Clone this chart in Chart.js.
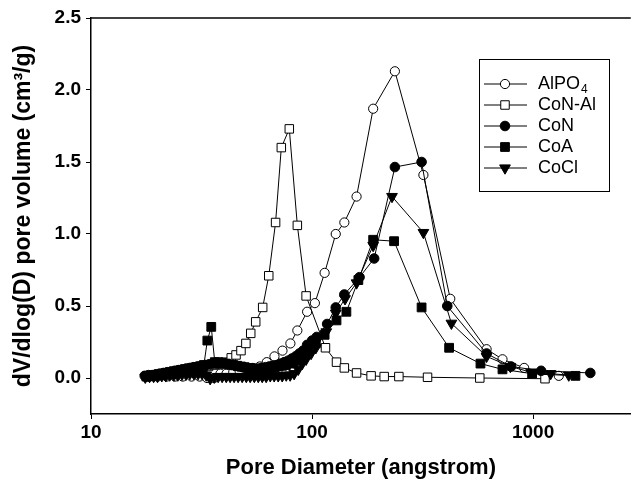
<!DOCTYPE html>
<html>
<head>
<meta charset="utf-8">
<script src="https://cdn.jsdelivr.net/npm/chart.js@4.4.1/dist/chart.umd.min.js"></script>
<style>
  body { margin: 0; background: #fff; }
  #wrap { width: 638px; height: 481px; }
</style>
</head>
<body>
<div id="wrap"><canvas id="graficoPoros"></canvas></div>
<script>
// diametros (angstrom) y dV/dlog(D) de cada muestra
const alpo4D = [18, 20, 22, 24, 26, 28.5, 31, 33.5, 36, 38.5, 41, 44, 47, 50.5, 54, 58, 62.4, 67.6, 73.5, 79.8, 85.8, 95, 103, 114, 128, 140, 159, 189, 237, 319, 422, 616, 727, 911, 1307]
const alpo4V = [0.01, 0.01, 0.01, 0.01, 0.01, 0.01, 0.01, 0.0, 0.0, 0.03, 0.03, 0.04, 0.05, 0.06, 0.07, 0.08, 0.11, 0.15, 0.19, 0.24, 0.33, 0.46, 0.52, 0.73, 1.00, 1.08, 1.26, 1.87, 2.13, 1.41, 0.55, 0.20, 0.13, 0.07, 0.015]

const conAlD = [18, 19.5, 21, 22.5, 24, 26, 28, 30, 32, 34, 36, 38, 40.5, 43.1, 45.3, 47.7, 50.2, 52.8, 55.6, 59.8, 63.7, 68.4, 72.6, 78.9, 85.8, 94, 115, 129, 140, 159, 185, 212, 247, 333, 574, 1132]
const conAlV = [0.01, 0.015, 0.02, 0.025, 0.03, 0.04, 0.05, 0.06, 0.07, 0.08, 0.09, 0.10, 0.11, 0.14, 0.16, 0.19, 0.24, 0.31, 0.39, 0.49, 0.71, 1.08, 1.60, 1.73, 1.06, 0.57, 0.21, 0.11, 0.07, 0.035, 0.015, 0.01, 0.01, 0.005, 0.0, -0.005]

const conD = [17.5, 18.2, 18.9, 19.7, 20.5, 21.3, 22.2, 23.1, 24.0, 25.0, 26.0, 27.0, 28.1, 29.2, 30.4, 31.6, 32.9, 34.2, 35.6, 37.0, 38.5, 40.0, 41.6, 43.3, 45.0, 46.8, 48.7, 50.6, 52.6, 54.7, 56.9, 59.2, 61.6, 64.0, 66.6, 69.3, 72.0, 74.9, 77.9, 81.0, 84.3, 87.6, 91.1, 95, 100, 105, 117, 128, 140, 164, 191, 237, 313, 409, 616, 795, 1087, 1815]
const conV = [0.015, 0.02, 0.02, 0.025, 0.03, 0.035, 0.04, 0.045, 0.05, 0.055, 0.06, 0.065, 0.07, 0.075, 0.08, 0.085, 0.09, 0.095, 0.10, 0.10, 0.10, 0.10, 0.095, 0.09, 0.085, 0.08, 0.075, 0.07, 0.065, 0.065, 0.065, 0.07, 0.075, 0.08, 0.085, 0.09, 0.10, 0.11, 0.12, 0.135, 0.15, 0.17, 0.19, 0.23, 0.26, 0.285, 0.375, 0.49, 0.58, 0.70, 0.83, 1.465, 1.50, 0.50, 0.17, 0.08, 0.05, 0.035]

const coaD = [17.8, 18.5, 19.3, 20.1, 20.9, 21.8, 22.7, 23.6, 24.5, 25.5, 26.5, 27.6, 28.7, 29.9, 31.1, 32.4, 33.6, 35.0, 36.3, 37.7, 39.2, 40.8, 42.4, 44.1, 45.9, 47.7, 49.6, 51.6, 53.7, 55.8, 58.0, 60.3, 62.7, 65.2, 67.8, 70.5, 73.3, 76.2, 79.3, 82.5, 85.8, 89.2, 92.8, 96.5, 104, 114, 129, 143, 162, 189, 235, 313, 417, 578, 727, 990, 1555]
const coaV = [0.01, 0.015, 0.02, 0.025, 0.03, 0.035, 0.04, 0.045, 0.05, 0.055, 0.06, 0.065, 0.07, 0.075, 0.08, 0.09, 0.26, 0.355, 0.11, 0.11, 0.105, 0.10, 0.095, 0.09, 0.085, 0.08, 0.075, 0.07, 0.065, 0.06, 0.06, 0.06, 0.065, 0.07, 0.075, 0.08, 0.085, 0.09, 0.10, 0.11, 0.12, 0.14, 0.16, 0.19, 0.24, 0.30, 0.40, 0.46, 0.68, 0.96, 0.95, 0.49, 0.21, 0.10, 0.06, 0.03, 0.015]

const coclD = [17.6, 18.4, 19.2, 20.0, 20.9, 21.8, 22.7, 23.7, 24.7, 25.8, 26.9, 28.0, 29.2, 30.5, 31.8, 33.2, 34.6, 36.1, 37.6, 39.2, 40.9, 42.6, 44.4, 46.3, 48.3, 50.4, 52.5, 54.8, 57.1, 59.5, 62.0, 64.7, 67.4, 70.3, 73.3, 76.4, 79.6, 83.0, 86.6, 90.3, 94, 99, 104, 116, 128, 141, 159, 189, 230, 319, 427, 616, 789, 980, 1200, 1450]
const coclV = [0.005, 0.01, 0.01, 0.01, 0.015, 0.015, 0.02, 0.02, 0.02, 0.025, 0.025, 0.03, 0.03, 0.03, 0.03, 0.02, -0.005, 0.005, 0.01, 0.01, 0.01, 0.01, 0.01, 0.01, 0.01, 0.01, 0.01, 0.01, 0.01, 0.01, 0.01, 0.015, 0.015, 0.015, 0.015, 0.02, 0.02, 0.03, 0.06, 0.10, 0.13, 0.17, 0.21, 0.32, 0.45, 0.55, 0.66, 0.92, 1.26, 1.01, 0.38, 0.15, 0.08, 0.04, 0.03, 0.02]

const xTicks = [10, 100, 1000]
const yTicks = [0, 0.5, 1.0, 1.5, 2.0, 2.5]

const fuente = "'Liberation Sans', Arial, sans-serif"

const puntos = (ds, vs) => ds.map((d, i) => ({ x: d, y: vs[i] }))

const serie = (nombre, ds, vs, estilo, relleno, radio, rotacion, orden) => ({
  label: nombre,
  data: puntos(ds, vs),
  borderColor: "#000",
  borderWidth: 1,
  backgroundColor: relleno,
  fill: false,
  tension: 0,
  pointStyle: estilo,
  pointRadius: radio,
  pointRotation: rotacion,
  pointBackgroundColor: relleno,
  pointBorderColor: "#000",
  pointBorderWidth: 1,
  order: orden,
})

const datasets = [
  serie("AlPO4", alpo4D, alpo4V, "circle", "#fff", 4.6, 0, 5),
  serie("CoN-Al", conAlD, conAlV, "rect", "#fff", 6, 0, 4),
  serie("CoN", conD, conV, "circle", "#000", 4.8, 0, 3),
  serie("CoA", coaD, coaV, "rect", "#000", 6.2, 0, 2),
  serie("CoCl", coclD, coclV, "triangle", "#000", 6.2, 180, 1),
]

// leyenda dentro del area con linea-marcador-linea
const leyendaCaja = {
  id: "leyendaCaja",
  afterDraw(chart) {
    const ctx = chart.ctx
    const x0 = 479, y0 = 59, w = 130, h = 132
    ctx.save()
    ctx.strokeStyle = "#000"
    ctx.lineWidth = 1
    ctx.strokeRect(x0 + 0.5, y0 + 0.5, w, h)
    chart.data.datasets.forEach((ds, i) => {
      const y = 84 + i * 21
      ctx.beginPath()
      ctx.moveTo(484, y)
      ctx.lineTo(527, y)
      ctx.strokeStyle = "#000"
      ctx.lineWidth = 1
      ctx.stroke()
      ctx.fillStyle = ds.pointBackgroundColor
      ctx.strokeStyle = "#000"
      Chart.helpers.drawPoint(ctx, {
        pointStyle: ds.pointStyle,
        radius: ds.pointRadius,
        rotation: ds.pointRotation,
        borderWidth: 1,
      }, 505, y)
      ctx.fillStyle = "#000"
      ctx.textBaseline = "middle"
      ctx.font = "18px " + fuente
      if (ds.label === "AlPO4") {
        ctx.fillText("AlPO", 538, y)
        const ancho = ctx.measureText("AlPO").width
        ctx.font = "12px " + fuente
        ctx.fillText("4", 538 + ancho + 1, y + 6)
      } else {
        ctx.fillText(ds.label, 538, y)
      }
    })
    ctx.restore()
  },
}

// linea superior del marco
const bordeSuperior = {
  id: "bordeSuperior",
  afterDraw(chart) {
    const { ctx, chartArea } = chart
    ctx.save()
    ctx.strokeStyle = "#000"
    ctx.lineWidth = 1.5
    ctx.beginPath()
    ctx.moveTo(chartArea.left, chartArea.top)
    ctx.lineTo(chartArea.right, chartArea.top)
    ctx.stroke()
    ctx.restore()
  },
}

const lienzo = document.getElementById("graficoPoros")

new Chart(lienzo, {
  type: "line",
  data: { datasets: datasets },
  options: {
    responsive: true,
    maintainAspectRatio: false,
    animation: false,
    layout: { padding: { top: 18, right: 0, left: 0, bottom: 0 } },
    plugins: {
      legend: { display: false },
      tooltip: { enabled: false },
    },
    scales: {
      x: {
        type: "logarithmic",
        min: 10,
        max: 2767,
        afterBuildTicks: (s) => { s.ticks = xTicks.map((v) => ({ value: v })) },
        afterFit: (s) => { s.height = 67 },
        ticks: {
          callback: (v) => String(v),
          color: "#000",
          font: { family: fuente, size: 19, weight: "bold" },
          padding: 2,
          maxRotation: 0,
          autoSkip: false,
        },
        grid: { display: true, drawOnChartArea: false, tickLength: 5, color: "#000", lineWidth: 1 },
        border: { display: true, color: "#000", width: 1.5 },
        title: {
          display: true,
          text: "Pore Diameter (angstrom)",
          color: "#000",
          font: { family: fuente, size: 22, weight: "bold" },
          padding: { top: 0, bottom: 0 },
        },
      },
      y: {
        min: -0.25,
        max: 2.5,
        afterBuildTicks: (s) => { s.ticks = yTicks.map((v) => ({ value: v })) },
        afterFit: (s) => { s.width = 91 },
        ticks: {
          callback: (v) => Number(v).toFixed(1),
          color: "#000",
          font: { family: fuente, size: 19, weight: "bold" },
          padding: 5,
        },
        grid: { display: true, drawOnChartArea: false, tickLength: 5, color: "#000", lineWidth: 1 },
        border: { display: true, color: "#000", width: 1.5 },
        title: {
          display: true,
          text: "dV/dlog(D) pore volume (cm³/g)",
          color: "#000",
          font: { family: fuente, size: 23, weight: "bold" },
          padding: { top: 10, bottom: 0 },
        },
      },
    },
  },
  plugins: [leyendaCaja, bordeSuperior],
})
</script>
</body>
</html>
